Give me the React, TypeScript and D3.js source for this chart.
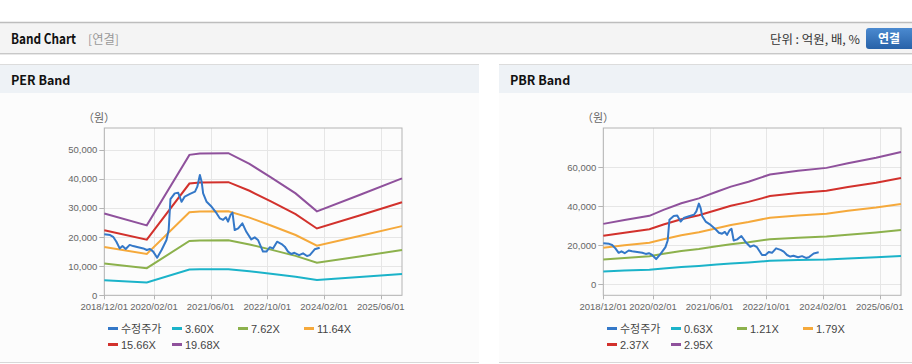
import React from 'react';
import * as d3 from 'd3';

// x axis ticks shared by both charts
const xTickLabels = ['2018/12/01', '2020/02/01', '2021/06/01', '2022/10/01', '2024/02/01', '2025/06/01'];
const xStart = '2018/12/01';
const xEnd = '2025/12/01';

// 수정주가 (adjusted price)
const priceDates = [
  '2018-12-01', '2019-01-20', '2019-02-15', '2019-03-15', '2019-04-12', '2019-05-06', '2019-06-03',
  '2019-07-07', '2019-08-06', '2019-09-18', '2019-11-01', '2019-12-01', '2019-12-28', '2020-01-25',
  '2020-02-28', '2020-04-06', '2020-05-18', '2020-06-06', '2020-06-21', '2020-07-28', '2020-08-27',
  '2020-09-25', '2020-10-22', '2020-12-06', '2021-01-18', '2021-02-07', '2021-03-01', '2021-03-16',
  '2021-03-29', '2021-04-28', '2021-06-10', '2021-07-22', '2021-08-20', '2021-09-16', '2021-10-10',
  '2021-10-29', '2021-11-19', '2021-12-06', '2021-12-25', '2022-01-24', '2022-03-01', '2022-04-04',
  '2022-05-16', '2022-06-15', '2022-07-13', '2022-08-25', '2022-09-24', '2022-10-22', '2022-11-19',
  '2022-12-24', '2023-02-01', '2023-02-28', '2023-03-28', '2023-04-25', '2023-05-22', '2023-07-01',
  '2023-08-04', '2023-09-07', '2023-10-01', '2023-11-12', '2023-12-25',
];
const priceValues = [
  20950, 20700, 20100, 18400, 16100, 16900, 15900,
  17300, 16900, 16500, 16100, 15550, 15900, 15000,
  12900, 15550, 19000, 22400, 33000, 35000, 35200,
  32100, 33900, 34800, 35600, 37300, 41300, 39000,
  35000, 32100, 30400, 28200, 26400, 25900, 26800,
  25300, 27600, 28400, 22400, 23000, 24700, 21800,
  19200, 19900, 19000, 15000, 15000, 16500, 16100,
  18400, 17600, 16700, 15000, 14200, 14600, 13800,
  14400, 13500, 13800, 15800, 16350,
];

// PER band
const perDates = ['2018-12-01', '2019-12-01', '2020-12-01', '2021-03-01', '2021-11-01', '2022-05-01',
  '2022-11-01', '2023-06-01', '2023-12-01', '2024-12-01', '2025-12-01'];
const per360 = [5140, 4390, 8820, 8910, 8930, 8250, 7410, 6400, 5270, 6300, 7340];
const per762 = [10880, 9300, 18670, 18860, 18900, 17470, 15680, 13550, 11160, 13340, 15550];
const per1164 = [16620, 14200, 28520, 28810, 28870, 26680, 23960, 20700, 17050, 20370, 23750];
const per1566 = [22360, 19110, 38370, 38760, 38840, 35890, 32230, 27840, 22940, 27410, 31950];
const per1968 = [28100, 24010, 48220, 48710, 48810, 45110, 40500, 34990, 28830, 34440, 40150];
const perLabels = ['수정주가', '3.60X', '7.62X', '11.64X', '15.66X', '19.68X'];
const perTicks = [0, 10000, 20000, 30000, 40000, 50000];

// PBR band
const pbrDates = ['2018-12-01', '2019-06-01', '2020-01-01', '2020-05-01', '2020-10-01', '2021-03-01',
  '2021-08-01', '2021-12-01', '2022-05-01', '2022-11-01', '2023-07-01', '2024-03-01', '2024-09-01',
  '2025-05-01', '2025-12-01'];
const pbr063 = [6600, 7030, 7480, 8130, 8850, 9390, 10110, 10680, 11210, 12000, 12410, 12730, 13230, 13830, 14460];
const pbr121 = [12680, 13490, 14380, 15610, 17000, 18030, 19420, 20510, 21540, 23050, 23840, 24440, 25410, 26560, 27770];
const pbr179 = [18760, 19960, 21270, 23090, 25150, 26670, 28730, 30340, 31860, 34100, 35260, 36160, 37590, 39290, 41080];
const pbr237 = [24840, 26430, 28160, 30570, 33300, 35310, 38040, 40170, 42190, 45150, 46690, 47870, 49770, 52020, 54390];
const pbr295 = [30920, 32890, 35050, 38060, 41450, 43960, 47350, 50010, 52510, 56200, 58120, 59590, 61950, 64750, 67700];
const pbrLabels = ['수정주가', '0.63X', '1.21X', '1.79X', '2.37X', '2.95X'];
const pbrTicks = [0, 20000, 40000, 60000];

const colors = ['#3478c8', '#1bb3c9', '#8cb14c', '#f5a93b', '#d2312c', '#8f519c'];

const parseDash = d3.timeParse('%Y-%m-%d');
const parseSlash = d3.timeParse('%Y/%m/%d');
const fmtTick = d3.timeFormat('%Y/%m/%d');
const fmtNum = d3.format(',');

const FONT = '"Liberation Sans", Arial, sans-serif';
const KFONT = '"Noto Sans CJK KR", "Noto Sans", sans-serif';

type PanelProps = {
  x0: number;
  width: number;
  title: string;
  yDomain: [number, number];
  yTicks: number[];
  bandDates: string[];
  bands: number[][];
  labels: string[];
};

function BandPanel({ x0, width, title, yDomain, yTicks, bandDates, bands, labels }: PanelProps) {
  const left = 104.3, right = 402, top = 128, bottom = 295.3;

  const x = d3.scaleTime()
    .domain([parseSlash(xStart)!, parseSlash(xEnd)!])
    .range([left, right]);
  const y = d3.scaleLinear().domain(yDomain).range([bottom, top]);

  const line = d3.line<[Date, number]>()
    .x(d => x(d[0]))
    .y(d => y(d[1]));

  const tickDates = xTickLabels.map(s => parseSlash(s)!);
  const bDates = bandDates.map(s => parseDash(s)!);
  const pricePts: [Date, number][] = priceDates.map((s, i) => [parseDash(s)!, priceValues[i]]);

  const legendCols = [108, 172, 238, 304];

  return (
    <g transform={`translate(${x0},0)`}>
      <rect x={0} y={92} width={width} height={271} fill="#fcfcfc" />
      <rect x={0} y={64} width={width} height={29} fill="#eef2f6" />
      <line x1={0} x2={width} y1={64.5} y2={64.5} stroke="#dcdcdc" />
      <line x1={0} x2={width} y1={362.5} y2={362.5} stroke="#d8d8d8" />
      <text x={11} y={84.5} fontFamily={KFONT} fontWeight="bold" fontSize={12.5} fill="#111">{title}</text>

      <text x={99} y={122} textAnchor="middle" fontFamily={KFONT} fontSize={11} fill="#666">（원）</text>

      {/* grid */}
      {yTicks.map(t => (
        <line key={'gy' + t} x1={left} x2={right} y1={Math.round(y(t)) + 0.5} y2={Math.round(y(t)) + 0.5} stroke="#e6e6e6" />
      ))}
      {tickDates.map((d, i) => (
        <line key={'gx' + i} x1={Math.round(x(d)) + 0.5} x2={Math.round(x(d)) + 0.5} y1={top} y2={bottom} stroke="#e6e6e6" />
      ))}

      {/* frame */}
      <rect x={left} y={top} width={right - left} height={bottom - top} fill="none" stroke="#b4b4b4" />

      {/* y axis */}
      {yTicks.map(t => (
        <g key={'ty' + t}>
          <line x1={left - 5} x2={left} y1={Math.round(y(t)) + 0.5} y2={Math.round(y(t)) + 0.5} stroke="#b4b4b4" />
          <text x={left - 7} y={y(t) + 3.5} textAnchor="end" fontFamily={FONT} fontSize={9.5} fill="#666">{fmtNum(t)}</text>
        </g>
      ))}

      {/* x axis */}
      {tickDates.map((d, i) => (
        <g key={'tx' + i}>
          <line x1={Math.round(x(d)) + 0.5} x2={Math.round(x(d)) + 0.5} y1={bottom} y2={bottom + 4} stroke="#b4b4b4" />
          <text x={x(d)} y={bottom + 15} textAnchor="middle" fontFamily={FONT} fontSize={9.5} fill="#666">{fmtTick(d)}</text>
        </g>
      ))}

      {/* bands */}
      {bands.map((vals, k) => (
        <path key={'b' + k}
          d={line(bDates.map((d, i) => [d, vals[i]] as [Date, number]))!}
          fill="none" stroke={colors[k + 1]} strokeWidth={2} />
      ))}
      <path d={line(pricePts)!} fill="none" stroke={colors[0]} strokeWidth={2} strokeLinejoin="round" />

      {/* legend */}
      {labels.map((lab, i) => {
        const lx = legendCols[i % 4];
        const ly = i < 4 ? 328.5 : 344.5;
        return (
          <g key={'lg' + i}>
            <line x1={lx} x2={lx + 10} y1={ly} y2={ly} stroke={colors[i]} strokeWidth={3} />
            <text x={lx + 13} y={ly + 4} fontFamily={i === 0 ? KFONT : FONT} fontSize={11} fill="#444">{lab}</text>
          </g>
        );
      })}
    </g>
  );
}

export default function App() {
  return (
    <div style={{ position: 'absolute', left: 0, top: 0 }}>
      <svg width={912} height={364} style={{ display: 'block' }}>
        <rect x={0} y={0} width={912} height={364} fill="#ffffff" />
        {/* top bar */}
        <rect x={0} y={22} width={912} height={31} fill="#f4f4f4" />
        <line x1={0} x2={912} y1={22.5} y2={22.5} stroke="#bdbdbd" strokeWidth={1.5} />
        <line x1={0} x2={912} y1={53.5} y2={53.5} stroke="#c8c8c8" />
        <line x1={0} x2={912} y1={54.5} y2={54.5} stroke="#e8e8e8" />
        <text x={11} y={44} fontFamily={KFONT} fontWeight="bold" fontSize={14} fill="#111"
          textLength={65} lengthAdjust="spacingAndGlyphs">Band Chart</text>
        <text x={88} y={44} fontFamily={KFONT} fontSize={12} fill="#999"
          textLength={31} lengthAdjust="spacingAndGlyphs">[연결]</text>
        <text x={860} y={44} textAnchor="end" fontFamily={KFONT} fontSize={12} fill="#333"
          textLength={90} lengthAdjust="spacingAndGlyphs">단위 : 억원, 배, %</text>
        <defs>
          <linearGradient id="btn" x1="0" y1="0" x2="0" y2="1">
            <stop offset="0" stopColor="#4b8ad0" />
            <stop offset="1" stopColor="#2862a8" />
          </linearGradient>
        </defs>
        <rect x={866} y={28} width={50} height={21} rx={3} fill="url(#btn)" />
        <text x={889} y={43} textAnchor="middle" fontFamily={KFONT} fontWeight="bold" fontSize={12} fill="#fff">연결</text>

        <BandPanel x0={0} width={479} title="PER Band" yDomain={[0, 57450]} yTicks={perTicks}
          bandDates={perDates} bands={[per360, per762, per1164, per1566, per1968]} labels={perLabels} />
        <BandPanel x0={499} width={413} title="PBR Band" yDomain={[-5640, 80000]} yTicks={pbrTicks}
          bandDates={pbrDates} bands={[pbr063, pbr121, pbr179, pbr237, pbr295]} labels={pbrLabels} />
      </svg>
    </div>
  );
}
